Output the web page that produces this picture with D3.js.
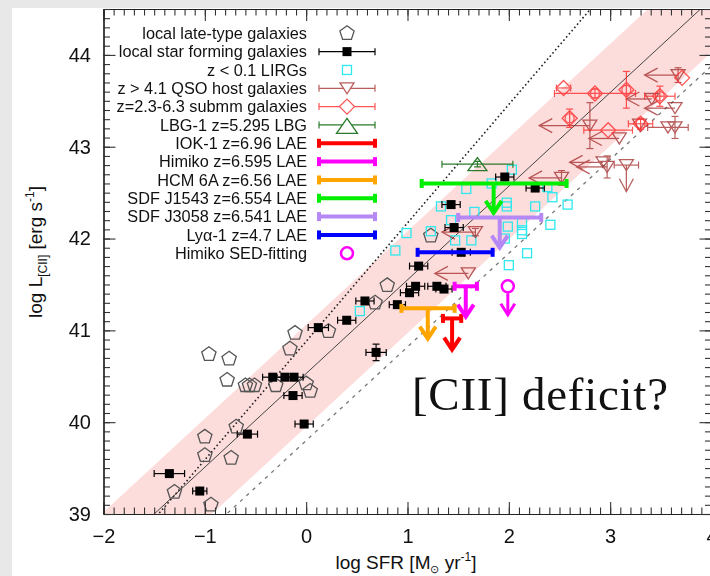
<!DOCTYPE html>
<html>
<head>
<meta charset="utf-8">
<script src="https://cdn.jsdelivr.net/npm/d3@7"></script>
<style>
  body { margin: 0; background: #e8e8e8; }
  svg { display: block; }
  text { fill: #111; }
</style>
</head>
<body>
<svg id="chart" width="710" height="576" font-family="'Liberation Sans', Arial, Helvetica, sans-serif"></svg>
<script>
// ---- data: log SFR [Msun/yr] vs log L[CII] [erg/s] ----

// local late-type galaxies: [logSFR, logL]
const lateType = [
  [-0.96, 40.74], [-0.76, 40.69], [-0.78, 40.46], [-0.60, 40.40], [-0.56, 40.40],
  [-0.51, 40.40], [-0.30, 40.40], [0.00, 40.42], [0.04, 40.34], [-0.16, 40.80],
  [-0.11, 40.97], [0.22, 40.99], [-0.69, 39.95], [-1.00, 39.84], [-1.00, 39.64],
  [-0.74, 39.61], [-1.30, 39.24], [-0.94, 39.10], [0.68, 41.30], [0.80, 41.49],
  [1.23, 42.03]
];

// local star forming galaxies: [logSFR, logL, sfrErr, lErr]
const localSF = [
  [-1.35, 39.44, 0.15, 0.03], [-1.05, 39.25, 0.07, 0], [-0.58, 39.87, 0.10, 0],
  [-0.33, 40.49, 0.10, 0], [-0.21, 40.49, 0.09, 0], [-0.12, 40.49, 0.09, 0],
  [-0.13, 40.29, 0.09, 0], [-0.02, 39.98, 0.09, 0], [0.69, 40.76, 0.10, 0.09],
  [0.58, 41.32, 0.09, 0], [0.40, 41.11, 0.09, 0], [0.12, 41.03, 0.10, 0],
  [0.90, 41.28, 0.08, 0], [1.08, 41.48, 0.09, 0], [1.02, 41.41, 0.09, 0],
  [1.29, 41.48, 0.09, 0], [1.36, 41.45, 0.08, 0], [1.11, 41.70, 0.09, 0],
  [1.53, 41.85, 0.09, 0], [1.46, 42.12, 0.09, 0], [1.43, 42.37, 0.09, 0],
  [2.26, 42.55, 0.09, 0], [1.96, 42.67, 0.09, 0]
];

// z < 0.1 LIRGs: [logSFR, logL]
const lirgs = [
  [2.03, 42.75], [1.83, 42.60], [1.58, 42.54], [2.38, 42.56], [2.43, 42.45],
  [2.58, 42.37], [1.33, 42.35], [1.98, 42.39], [1.98, 42.35], [2.26, 42.35],
  [1.66, 42.29], [1.43, 42.20], [2.13, 42.17], [2.13, 42.09], [2.13, 42.05],
  [2.41, 42.15], [1.99, 42.13], [1.23, 42.08], [1.96, 42.00], [1.63, 41.98],
  [1.47, 41.98], [0.99, 42.06], [2.18, 41.84], [2.00, 41.71], [0.88, 41.87],
  [0.53, 41.21]
];

// z > 4.1 QSO hosts: [logSFR, logL, sfrErr, lErr, limit, limitLength]
const qso = [
  [3.67, 43.78, 0, 0.08, "left", 0.33], [3.64, 43.42, 0, 0, "left", 0.30],
  [3.64, 43.21, 0, 0.12, "", 0], [3.57, 43.21, 0.20, 0, "", 0],
  [3.41, 43.52, 0, 0, "left", 0.25], [2.80, 43.23, 0, 0.25, "left", 0.50],
  [3.29, 43.24, 0, 0, "", 0], [3.09, 43.09, 0, 0, "left", 0.30],
  [2.93, 42.83, 0, 0, "left", 0.33], [2.97, 42.78, 0, 0.12, "left", 0.30],
  [3.16, 42.80, 0.12, 0, "down", 0.29], [2.52, 42.66, 0, 0.08, "left", 0.32],
  [1.67, 42.07, 0, 0.04, "left", 0.33], [1.60, 41.62, 0, 0, "left", 0.33]
];

// z = 2.3-6.3 submm galaxies: [logSFR, logL, sfrErr, lErr, ringed]
const submm = [
  [2.54, 43.64, 0.07, 0, 0], [2.85, 43.58, 0.40, 0.05, 1], [3.16, 43.62, 0, 0.20, 1],
  [3.49, 43.55, 0.15, 0.11, 1], [2.60, 43.31, 0, 0.10, 1], [2.98, 43.18, 0.24, 0, 0],
  [3.30, 43.25, 0.12, 0.06, 1], [3.71, 43.75, 0, 0, 0]
];

// LBG-1 z=5.295: [logSFR, logL, sfrErr, lErr]
const lbg = [[1.69, 42.81, 0.35, 0.03]];

// LAE limits: name, colour, SFR range, log L upper limit, arrow position, arrow tip
const laeNames   = ["IOK-1 z=6.96 LAE", "Himiko z=6.595 LAE", "HCM 6A z=6.56 LAE",
                    "SDF J1543 z=6.554 LAE", "SDF J3058 z=6.541 LAE", "Ly\u03b1-1 z=4.7 LAE"];
const laeColors  = ["#ff0000", "#ff00ff", "#ffa500", "#00ee00", "#b588f5", "#0000ff"];
const laeSfrLo   = [1.35, 1.465, 0.94, 1.14, 1.50, 1.10];
const laeSfrHi   = [1.53, 1.685, 1.465, 2.57, 2.32, 1.84];
const laeL       = [41.13, 41.48, 41.24, 42.60, 42.23, 41.85];
const laeArrowX  = [1.44, 1.575, 1.20, 1.85, 1.91, null];
const laeArrowTo = [40.79, 41.15, 40.91, 42.28, 41.90, null];

// Himiko SED-fitting estimate: [logSFR, logL, arrow tip]
const himikoSED = [[1.99, 41.48, 41.17]];

// relations: [slope, intercept]
const relSolid  = [1.02, 40.53];
const relDotted = [1.29, 40.88];
const relDashed = [1.02, 39.80];
const bandUp = 0.53, bandDown = 0.58;

// axis ticks
const xTicks = [-2, -1, 0, 1, 2, 3, 4];
const yTicks = [39, 40, 41, 42, 43, 44];

// ---- drawing ----
const svg = d3.select("#chart");
svg.append("rect").attr("x", 12).attr("y", 8).attr("width", 698).attr("height", 568).attr("fill", "#fff");

const x = d3.scaleLinear().domain([-2, 4]).range([103.5, 711.5]);
const y = d3.scaleLinear().domain([39, 44.5]).range([514, 9]);
const [X0, X1] = x.range(), [Y0, Y1] = y.range();

svg.append("clipPath").attr("id", "plotclip")
  .append("rect").attr("x", X0).attr("y", Y1).attr("width", X1 - X0).attr("height", Y0 - Y1);
const plot = svg.append("g").attr("clip-path", "url(#plotclip)");

// relation lines and scatter band
const xs = [-2.5, 4.5];
const rel = (r, v, off = 0) => r[0] * v + r[1] + off;
plot.append("path")
  .attr("d", `M${x(xs[0])},${y(rel(relSolid, xs[0], bandUp))}L${x(xs[1])},${y(rel(relSolid, xs[1], bandUp))}` +
             `L${x(xs[1])},${y(rel(relSolid, xs[1], -bandDown))}L${x(xs[0])},${y(rel(relSolid, xs[0], -bandDown))}Z`)
  .attr("fill", "#fddcdc");
const relLine = (r, dash, color, w) => plot.append("line")
  .attr("x1", x(xs[0])).attr("y1", y(rel(r, xs[0]))).attr("x2", x(xs[1])).attr("y2", y(rel(r, xs[1])))
  .attr("stroke", color).attr("stroke-width", w).attr("stroke-dasharray", dash);
relLine(relSolid, null, "#444", 1);
relLine(relDotted, "1.6,2.6", "#222", 1.6);
relLine(relDashed, "3.5,5", "#777", 1.3);

// helpers
function errX(g, cx, cy, ex, color, w = 1.2, cap = 3.5) {
  if (!ex) return;
  g.append("line").attr("x1", x(cx - ex)).attr("x2", x(cx + ex)).attr("y1", y(cy)).attr("y2", y(cy))
    .attr("stroke", color).attr("stroke-width", w);
  [cx - ex, cx + ex].forEach(v => g.append("line").attr("x1", x(v)).attr("x2", x(v))
    .attr("y1", y(cy) - cap).attr("y2", y(cy) + cap).attr("stroke", color).attr("stroke-width", w));
}
function errY(g, cx, cy, ey, color, w = 1.2, cap = 3.5) {
  if (!ey) return;
  g.append("line").attr("x1", x(cx)).attr("x2", x(cx)).attr("y1", y(cy - ey)).attr("y2", y(cy + ey))
    .attr("stroke", color).attr("stroke-width", w);
  [cy - ey, cy + ey].forEach(v => g.append("line").attr("y1", y(v)).attr("y2", y(v))
    .attr("x1", x(cx) - cap).attr("x2", x(cx) + cap).attr("stroke", color).attr("stroke-width", w));
}
const pentagon = r => d3.range(5).map(k => {
  const a = -Math.PI / 2 + k * 2 * Math.PI / 5;
  return [r * Math.cos(a), r * Math.sin(a)];
});
const pentPath = r => "M" + pentagon(r).join("L") + "Z";
const triDown = (w, h) => `M${-w / 2},${-h / 2}L${w / 2},${-h / 2}L0,${h / 2}Z`;
const triUp = (w, h) => `M${-w / 2},${h / 2}L${w / 2},${h / 2}L0,${-h / 2}Z`;
const diamond = s => `M0,${-s}L${s},0L0,${s}L${-s},0Z`;

// local late-type galaxies
plot.append("g").selectAll("path").data(lateType).join("path")
  .attr("d", pentPath(7.5)).attr("transform", d => `translate(${x(d[0])},${y(d[1])})`)
  .attr("fill", "none").attr("stroke", "#555").attr("stroke-width", 1.3);

// z<0.1 LIRGs
plot.append("g").selectAll("rect").data(lirgs).join("rect")
  .attr("x", d => x(d[0]) - 4.5).attr("y", d => y(d[1]) - 4.5).attr("width", 9).attr("height", 9)
  .attr("fill", "none").attr("stroke", "#2ee8ee").attr("stroke-width", 1.3);

// QSO host galaxies
const gq = plot.append("g").attr("opacity", 0.72);
const qCol = "#9e2020";
qso.forEach(d => {
  const [sx, ly, ex, ey, lim, len] = d;
  errX(gq, sx, ly, ex, qCol);
  errY(gq, sx, ly, ey, qCol);
  if (lim === "left") {
    const tx = x(sx - len), ty = y(ly);
    gq.append("line").attr("x1", x(sx)).attr("x2", tx).attr("y1", ty).attr("y2", ty).attr("stroke", qCol).attr("stroke-width", 1.3);
    gq.append("path").attr("d", `M${tx + 13},${ty - 7}L${tx},${ty}L${tx + 13},${ty + 7}`)
      .attr("fill", "none").attr("stroke", qCol).attr("stroke-width", 1.3);
  } else if (lim === "down") {
    const tx = x(sx), ty = y(ly - len);
    gq.append("line").attr("x1", tx).attr("x2", tx).attr("y1", y(ly)).attr("y2", ty).attr("stroke", qCol).attr("stroke-width", 1.3);
    gq.append("path").attr("d", `M${tx - 7},${ty - 13}L${tx},${ty}L${tx + 7},${ty - 13}`)
      .attr("fill", "none").attr("stroke", qCol).attr("stroke-width", 1.3);
  }
  gq.append("path").attr("d", triDown(14, 11)).attr("transform", `translate(${x(sx)},${y(ly)})`)
    .attr("fill", "none").attr("stroke", qCol).attr("stroke-width", 1.3);
});

// submm galaxies
const gs = plot.append("g").attr("opacity", 0.8);
const sCol = "#ff2a2a";
submm.forEach(d => {
  const [sx, ly, ex, ey, ring] = d;
  errX(gs, sx, ly, ex, sCol);
  errY(gs, sx, ly, ey, sCol);
  gs.append("path").attr("d", diamond(7.5)).attr("transform", `translate(${x(sx)},${y(ly)})`)
    .attr("fill", "none").attr("stroke", sCol).attr("stroke-width", 1.3);
  if (ring) gs.append("circle").attr("cx", x(sx)).attr("cy", y(ly)).attr("r", 4.5)
    .attr("fill", "none").attr("stroke", sCol).attr("stroke-width", 1.2);
});

// LBG-1
const gl = plot.append("g");
const lCol = "#2b7a2b";
lbg.forEach(d => {
  errX(gl, d[0], d[1], d[2], lCol);
  errY(gl, d[0], d[1], d[3], lCol);
  gl.append("path").attr("d", triUp(19, 13)).attr("transform", `translate(${x(d[0])},${y(d[1])})`)
    .attr("fill", "none").attr("stroke", lCol).attr("stroke-width", 1.3);
});

// local star forming galaxies
const gk = plot.append("g");
localSF.forEach(d => {
  errX(gk, d[0], d[1], d[2], "#000", 1.2, 3.5);
  errY(gk, d[0], d[1], d[3], "#000", 1.2, 3.5);
  gk.append("rect").attr("x", x(d[0]) - 4.5).attr("y", y(d[1]) - 4.5).attr("width", 9).attr("height", 9).attr("fill", "#000");
});

// LAE upper limits
const ga = plot.append("g");
laeNames.forEach((n, i) => {
  const c = laeColors[i];
  errX(ga, (laeSfrLo[i] + laeSfrHi[i]) / 2, laeL[i], (laeSfrHi[i] - laeSfrLo[i]) / 2, c, 4, 4.5);
  if (laeArrowX[i] !== null) {
    const ax = x(laeArrowX[i]), ty = y(laeArrowTo[i]);
    ga.append("line").attr("x1", ax).attr("x2", ax).attr("y1", y(laeL[i])).attr("y2", ty - 1)
      .attr("stroke", c).attr("stroke-width", 4);
    ga.append("path").attr("d", `M${ax - 8},${ty - 12}L${ax},${ty}L${ax + 8},${ty - 12}`)
      .attr("fill", "none").attr("stroke", c).attr("stroke-width", 4).attr("stroke-linejoin", "miter");
  }
});
himikoSED.forEach(d => {
  const ax = x(d[0]), ty = y(d[2]);
  ga.append("line").attr("x1", ax).attr("x2", ax).attr("y1", y(d[1]) + 7).attr("y2", ty - 1)
    .attr("stroke", "#ff00ff").attr("stroke-width", 3);
  ga.append("path").attr("d", `M${ax - 7},${ty - 11}L${ax},${ty}L${ax + 7},${ty - 11}`)
    .attr("fill", "none").attr("stroke", "#ff00ff").attr("stroke-width", 3);
  ga.append("circle").attr("cx", ax).attr("cy", y(d[1])).attr("r", 6)
    .attr("fill", "none").attr("stroke", "#ff00ff").attr("stroke-width", 2.5);
});

// ---- axes ----
const minorX = d3.range(-2, 4.0001, 0.1).map(v => +v.toFixed(1));
const minorY = d3.range(39, 44.5001, 0.1).map(v => +v.toFixed(1));
function styleAxis(g) {
  g.selectAll(".domain").attr("stroke", "#222").attr("stroke-width", 1.2);
  g.selectAll(".tick line").attr("stroke", "#333").attr("stroke-width", 1.1);
  g.selectAll("text").attr("font-size", 20).attr("fill", "#111")
    .attr("font-family", "'Liberation Sans', Arial, sans-serif");
}
const mk = (axis, t, values, size, labels, pad) => {
  const a = axis.tickValues(values).tickSize(size).tickSizeOuter(0);
  if (!labels) a.tickFormat("");
  else a.tickFormat(d3.format("d")).tickPadding(pad);
  const g = svg.append("g").attr("transform", t).call(a);
  styleAxis(g);
  return g;
};
mk(d3.axisBottom(x), `translate(0,${Y0})`, minorX, -6.5, false);
mk(d3.axisBottom(x), `translate(0,${Y0})`, xTicks, -12, true, 15);
mk(d3.axisTop(x), `translate(0,${Y1})`, minorX, -6.5, false);
mk(d3.axisTop(x), `translate(0,${Y1})`, xTicks, -12, false);
mk(d3.axisLeft(y), `translate(${X0},0)`, minorY, -6.5, false);
mk(d3.axisLeft(y), `translate(${X0},0)`, yTicks, -12, true, 12.5);
mk(d3.axisRight(y), `translate(${X1},0)`, minorY, -6.5, false);
mk(d3.axisRight(y), `translate(${X1},0)`, yTicks, -12, false);

// axis titles
const xt = svg.append("text").attr("x", 406).attr("y", 569).attr("text-anchor", "middle").attr("font-size", 19);
xt.append("tspan").text("log SFR [M");
xt.append("tspan").text("\u2299").attr("font-size", 11).attr("dy", 3.5);
xt.append("tspan").text(" yr").attr("dy", -3.5);
xt.append("tspan").text("-1").attr("font-size", 12).attr("dy", -8);
xt.append("tspan").text("]").attr("dy", 8);

const yt = svg.append("text").attr("transform", "translate(42,252) rotate(-90)").attr("text-anchor", "middle").attr("font-size", 19);
yt.append("tspan").text("log L");
yt.append("tspan").text("[CII]").attr("font-size", 12).attr("dy", 5);
yt.append("tspan").text(" [erg s").attr("dy", -5);
yt.append("tspan").text("-1").attr("font-size", 12).attr("dy", -8);
yt.append("tspan").text("]").attr("dy", 8);

// annotation in the empty lower-right region
svg.append("text").attr("x", 412).attr("y", 410)
  .style("font-family", "'Liberation Serif', 'DejaVu Serif', serif").style("font-size", "47px")
  .attr("textLength", 256).attr("lengthAdjust", "spacing").attr("fill", "#111")
  .text("[CII] deficit?");

// ---- legend ----
const legendLabels = ["local late-type galaxies", "local star forming galaxies", "z < 0.1 LIRGs",
  "z > 4.1 QSO host galaxies", "z=2.3-6.3 submm galaxies", "LBG-1 z=5.295 LBG"]
  .concat(laeNames, ["Himiko SED-fitting"]);
const lg = svg.append("g");
const rowY = i => 33.3 + i * 18.33;
const lx0 = 319, lx1 = 375, lxc = 347;
legendLabels.forEach((t, i) => {
  lg.append("text").attr("x", 307).attr("y", rowY(i)).attr("dy", "0.36em").attr("text-anchor", "end")
    .attr("font-size", 16.3).text(t);
});
const lbar = (i, color, w, cap, op) => {
  const g = lg.append("g").attr("opacity", op || 1);
  const yy = rowY(i);
  g.append("line").attr("x1", lx0).attr("x2", lx1).attr("y1", yy).attr("y2", yy).attr("stroke", color).attr("stroke-width", w);
  [lx0, lx1].forEach(v => g.append("line").attr("x1", v).attr("x2", v).attr("y1", yy - cap).attr("y2", yy + cap)
    .attr("stroke", color).attr("stroke-width", w));
  return g;
};
lg.append("path").attr("d", pentPath(7.5)).attr("transform", `translate(${lxc},${rowY(0)})`)
  .attr("fill", "none").attr("stroke", "#555").attr("stroke-width", 1.3);
lbar(1, "#000", 1.2, 3.5);
lg.append("rect").attr("x", lxc - 4.5).attr("y", rowY(1) - 4.5).attr("width", 9).attr("height", 9).attr("fill", "#000");
lg.append("rect").attr("x", lxc - 4.5).attr("y", rowY(2) - 4.5).attr("width", 9).attr("height", 9)
  .attr("fill", "none").attr("stroke", "#2ee8ee").attr("stroke-width", 1.3);
lbar(3, qCol, 1.2, 3.5, 0.72).append("path").attr("d", triDown(14, 11)).attr("transform", `translate(${lxc},${rowY(3)})`)
  .attr("fill", "#fff").attr("stroke", qCol).attr("stroke-width", 1.3);
lbar(4, sCol, 1.2, 3.5, 0.8).append("path").attr("d", diamond(7.5)).attr("transform", `translate(${lxc},${rowY(4)})`)
  .attr("fill", "#fff").attr("stroke", sCol).attr("stroke-width", 1.3);
lbar(5, lCol, 1.2, 3.5).append("path").attr("d", triUp(21, 15)).attr("transform", `translate(${lxc},${rowY(5) + 1})`)
  .attr("fill", "#fff").attr("stroke", lCol).attr("stroke-width", 1.3);
laeColors.forEach((c, k) => lbar(6 + k, c, 4, 4.5));
lg.append("circle").attr("cx", lxc).attr("cy", rowY(12)).attr("r", 6)
  .attr("fill", "none").attr("stroke", "#ff00ff").attr("stroke-width", 2.5);
</script>
</body>
</html>
